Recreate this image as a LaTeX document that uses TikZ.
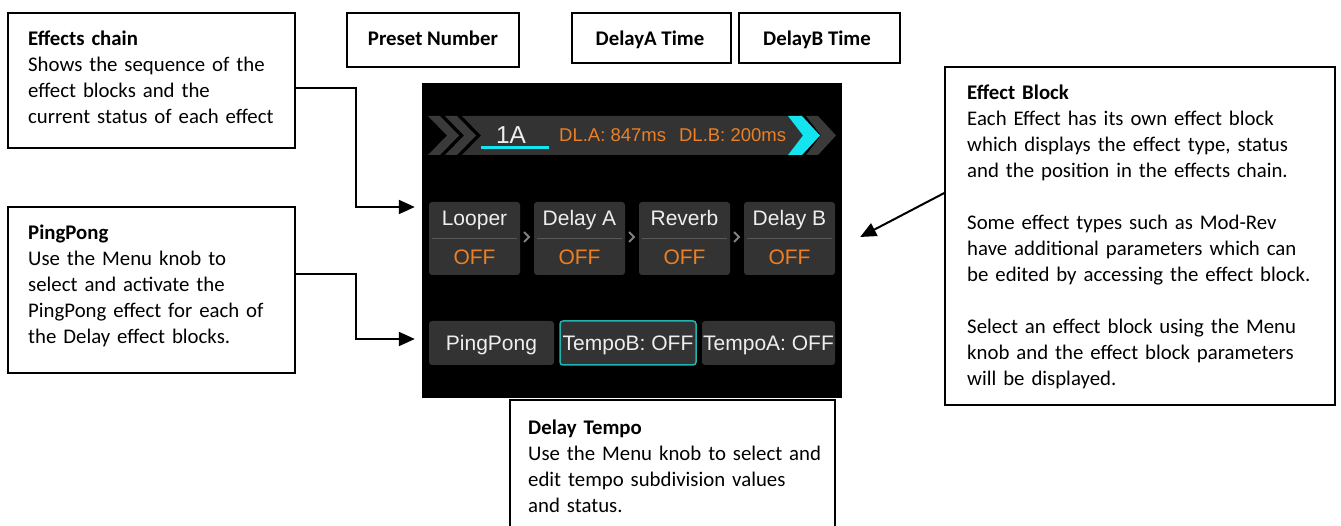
\documentclass[tikz,border=0pt]{standalone}
\usepackage{fontspec}
\setmainfont{Carlito}
\newfontfamily\uifont{Liberation Sans}
\usetikzlibrary{arrows.meta,calc}

\definecolor{panel}{RGB}{51,51,51}
\definecolor{chev}{RGB}{58,58,58}
\definecolor{uiorange}{RGB}{236,128,36}
\definecolor{uicyan}{RGB}{20,228,240}
\definecolor{uiteal}{RGB}{30,180,180}
\definecolor{uiwhite}{RGB}{238,238,238}
\definecolor{uigray}{RGB}{130,130,130}
\definecolor{rule}{RGB}{88,88,88}

\tikzset{
  annot/.style={draw=black, line width=1.4pt, fill=white, inner sep=0pt},
  note/.style={anchor=base west, inner sep=0pt, align=left, text width=#1,
    font=\fontsize{20.8}{26}\selectfont},
  tag/.style={anchor=base, inner sep=0pt, font=\fontsize{20.8}{26}\selectfont\bfseries},
  blk/.style={fill=panel, rounded corners=3pt, inner sep=0pt},
  uilabel/.style={anchor=base, inner sep=0pt, text=uiwhite,
    font=\uifont\fontsize{21}{24}\selectfont},
  uistate/.style={uilabel, text=uiorange},
  sep/.style={uigray, line width=1.8pt},
  link/.style={line width=2pt, -{Triangle[length=16pt,width=14pt]}},
}

\begin{document}
\begin{tikzpicture}[x=1pt,y=-1pt]
\useasboundingbox (0,0) rectangle (1341,526);
\fill[white] (0,0) rectangle (1341,526);

% ---------------- display ----------------
\node[fill=black, minimum width=420, minimum height=315, inner sep=0pt] (screen) at (632,240.5) {};

% header bar with chevrons
\fill[chev] (428,116) -- (440,116) -- (459,135.5) -- (440,155) -- (428,155) -- (447,135.5) -- cycle;
\fill[chev] (445,116) -- (457,116) -- (476,135.5) -- (457,155) -- (445,155) -- (464,135.5) -- cycle;
\fill[panel] (462,116) -- (788,116) -- (803,135.5) -- (788,155) -- (462,155) -- (481,135.5) -- cycle;
\fill[chev] (806,116) -- (818,116) -- (836,135.5) -- (818,155) -- (806,155) -- (821,135.5) -- cycle;
\fill[uicyan] (788,116) -- (802,116) -- (820,135.5) -- (802,155) -- (788,155) -- (803,135.5) -- cycle;

\node[uilabel, font=\uifont\fontsize{24.5}{28}\selectfont] (preset) at (511,144) {1A};
\draw[uicyan, line width=3pt] (481,148) -- (549,148);
\node[anchor=base west, inner sep=0pt, text=uiorange, font=\uifont\fontsize{18.5}{22}\selectfont]
  (dltime) at (559,142) {DL.A: 847ms\hspace{13pt}DL.B: 200ms};

% effect blocks
\foreach \n/\x/\t in {looper/474.5/Looper, dlya/579.5/Delay A, rvb/684.5/Reverb, dlyb/789.5/Delay B} {
  \node[blk, minimum width=91, minimum height=73] (\n) at (\x,238.5) {};
  \draw[rule, line width=1pt] ([xshift=3pt]\n.west) -- ([xshift=-3pt]\n.east);
  \node[uilabel] (\n-name) at (\x,226) {\t};
  \node[uistate] (\n-state) at (\x,265) {OFF};
}
\foreach \x in {527,632,737} {
  \draw[sep] (\x-3,232) -- (\x+2,237) -- (\x-3,242);
}

% bottom row
\node[blk, minimum width=125, minimum height=44] (pingpong) at (491.5,343) {};
\node[blk, minimum width=136, minimum height=44, draw=uiteal, line width=1.5pt] (tempob) at (628,343) {};
\node[blk, minimum width=133, minimum height=44] (tempoa) at (768.5,343) {};
\node[uilabel] (pingpong-t) at (491.5,351) {PingPong};
\node[uilabel] (tempob-t) at (628,351) {TempoB: OFF};
\node[uilabel] (tempoa-t) at (768.5,351) {TempoA: OFF};

% ---------------- callouts ----------------
\node[annot, minimum width=287, minimum height=135] (ec) at (151.5,80.5) {};
\node[note=280pt] (ec-t) at (28,45.5) {\textbf{Effects chain}\\Shows the sequence of the\\effect blocks and the\\current status of each effect};

\node[annot, minimum width=172, minimum height=54] (pn) at (433,40) {};
\node[tag] (pn-t) at (433,45.5) {Preset Number};
\node[annot, minimum width=159, minimum height=50] (da) at (651.5,38) {};
\node[tag] (da-t) at (650,45.5) {DelayA Time};
\node[annot, minimum width=161, minimum height=50] (db) at (819.5,38) {};
\node[tag] (db-t) at (817,45.5) {DelayB Time};

\node[annot, minimum width=287, minimum height=166] (pp) at (151.5,290) {};
\node[note=280pt] (pp-t) at (28,239.5) {\textbf{PingPong}\\Use the Menu knob to\\select and activate the\\PingPong effect for each of\\the Delay effect blocks.};

\node[annot, minimum width=390, minimum height=338] (eb) at (1140,236) {};
\node[note=360pt] (eb-t) at (967,99.5) {\textbf{Effect Block}\\Each Effect has its own effect block\\which displays the effect type, status\\and the position in the effects chain.\\[26pt]Some effect types such as Mod-Rev\\have additional parameters which can\\be edited by accessing the effect block.\\[26pt]Select an effect block using the Menu\\knob and the effect block parameters\\will be displayed.};

\node[annot, minimum width=325, minimum height=145] (dt) at (672.5,472.5) {};
\node[note=300pt] (dt-t) at (528,434.5) {\textbf{Delay Tempo}\\Use the Menu knob to select and\\edit tempo subdivision values\\and status.};

% connectors
\draw[link] ([yshift=-7.5pt]ec.east) -- ++(60,0) |- ([xshift=-14pt,yshift=31.5pt]looper.west);
\draw[link] ([yshift=16pt]pp.east) -- ++(60,0) |- ([xshift=-14pt,yshift=4pt]pingpong.west);
\draw[link] ([yshift=43pt]eb.west) -- ([xshift=25pt,yshift=1.5pt]dlyb.east);
\end{tikzpicture}
\end{document}
